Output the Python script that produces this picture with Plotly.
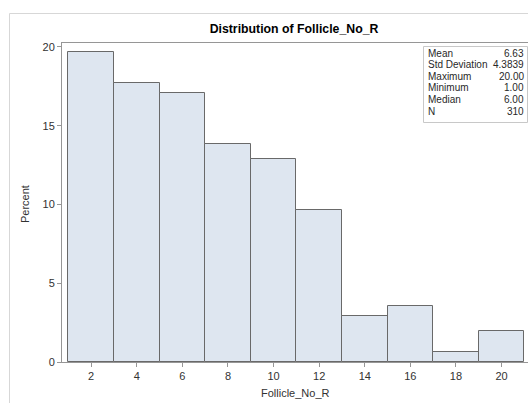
import plotly.graph_objects as go

bin_centers = [2, 4, 6, 8, 10, 12, 14, 16, 18, 20]
percent = [19.68, 17.74, 17.10, 13.87, 12.90, 9.68, 2.90, 3.55, 0.65, 1.94]
x_ticks = [2, 4, 6, 8, 10, 12, 14, 16, 18, 20]
y_ticks = [0, 5, 10, 15, 20]
stat_labels = ["Mean", "Std Deviation", "Maximum", "Minimum", "Median", "N"]
stat_values = ["6.63", "4.3839", "20.00", "1.00", "6.00", "310"]

FONT = "Liberation Sans, Arial, sans-serif"
W, H = 528, 403
L, R, T, B = 62, 0, 43, 41
pw, ph = W - L - R, H - T - B

def px_to_paper_x(px):
    return (px - L) / pw

def px_to_paper_y(py):
    return 1 - (py - T) / ph

fig = go.Figure()
fig.add_trace(go.Bar(
    x=bin_centers, y=percent, width=2,
    marker=dict(color="rgb(222,230,240)", line=dict(color="rgb(105,105,105)", width=1)),
    showlegend=False, hoverinfo="x+y",
))

axis_col = "rgb(150,150,150)"
fig.update_layout(
    width=W, height=H,
    margin=dict(l=L, r=R, t=T, b=B),
    paper_bgcolor="white", plot_bgcolor="white",
    font=dict(family=FONT, size=11, color="rgb(50,50,50)"),
    bargap=0,
    title=dict(text="<b>Distribution of Follicle_No_R</b>", x=px_to_paper_x(294), xref="paper",
               xanchor="center", y=1 - 29 / H, yanchor="middle",
               font=dict(family=FONT, size=12.3, color="black")),
    xaxis=dict(range=[0.72, 21.16], tickvals=x_ticks, ticks="outside", ticklen=4,
               tickcolor=axis_col, showline=True, linecolor=axis_col, mirror=True,
               showgrid=False, zeroline=False, fixedrange=True,
               tickfont=dict(size=11)),
    yaxis=dict(range=[0, 20.25], tickvals=y_ticks, ticks="outside", ticklen=4,
               tickcolor=axis_col, showline=True, linecolor=axis_col, mirror=False,
               showgrid=False, zeroline=False, fixedrange=True,
               tickfont=dict(size=11)),
)

# axis titles
fig.add_annotation(xref="paper", yref="paper", x=px_to_paper_x(295), y=px_to_paper_y(392.5),
                   text="Follicle_No_R", showarrow=False, xanchor="center", yanchor="middle",
                   font=dict(size=11, color="rgb(50,50,50)"))
fig.add_annotation(xref="paper", yref="paper", x=px_to_paper_x(25), y=px_to_paper_y(204),
                   text="Percent", showarrow=False, xanchor="center", yanchor="middle",
                   textangle=-90, font=dict(size=11, color="rgb(50,50,50)"))

# outer frame (left and top edges visible)
frame_col = "rgb(215,215,215)"
fig.add_shape(type="line", xref="paper", yref="paper",
              x0=px_to_paper_x(9.5), x1=px_to_paper_x(540),
              y0=px_to_paper_y(13.5), y1=px_to_paper_y(13.5),
              line=dict(color=frame_col, width=1))
fig.add_shape(type="line", xref="paper", yref="paper",
              x0=px_to_paper_x(9.5), x1=px_to_paper_x(9.5),
              y0=px_to_paper_y(13.5), y1=px_to_paper_y(410),
              line=dict(color=frame_col, width=1))

# stats inset box
bx0, bx1, by0, by1 = 423.5, 527.5, 46.5, 122.5
fig.add_shape(type="rect", xref="paper", yref="paper",
              x0=px_to_paper_x(bx0), x1=px_to_paper_x(bx1),
              y0=px_to_paper_y(by0), y1=px_to_paper_y(by1),
              line=dict(color="rgb(200,200,200)", width=1), fillcolor="white")
row0, row_h = 53.3, 11.55
for i, (lab, val) in enumerate(zip(stat_labels, stat_values)):
    yc = row0 + row_h * i
    fig.add_annotation(xref="paper", yref="paper", x=px_to_paper_x(426), y=px_to_paper_y(yc),
                       text=lab, showarrow=False, xanchor="left", yanchor="middle",
                       font=dict(size=10, color="rgb(40,40,40)"))
    fig.add_annotation(xref="paper", yref="paper", x=px_to_paper_x(525.5), y=px_to_paper_y(yc),
                       text=val, showarrow=False, xanchor="right", yanchor="middle",
                       font=dict(size=10, color="rgb(40,40,40)"))

fig.write_html("out.html", config={"displayModeBar": False})
